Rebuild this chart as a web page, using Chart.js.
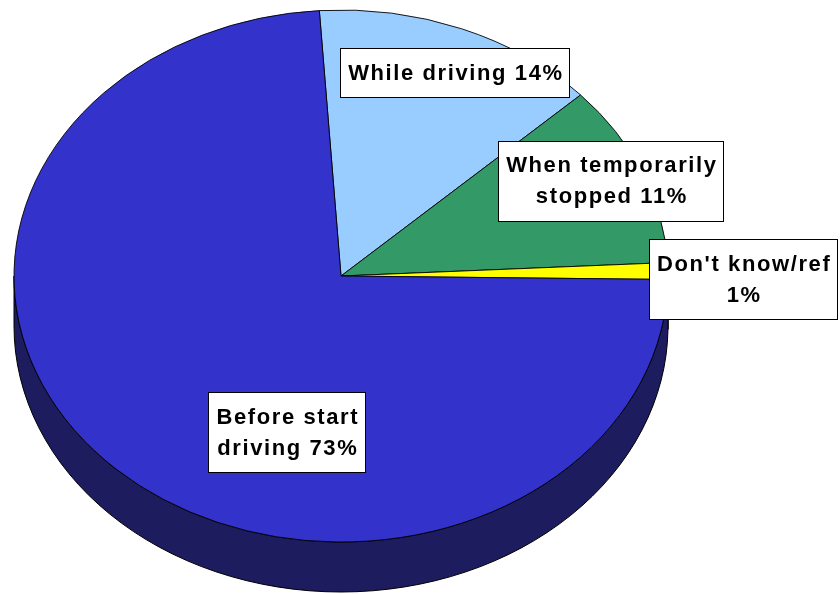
<!DOCTYPE html>
<html>
<head>
<meta charset="utf-8">
<script src="https://cdn.jsdelivr.net/npm/chart.js@4"></script>
<style>
  html, body { margin: 0; padding: 0; background: #fff; }
  #wrap { width: 840px; height: 594px; }
</style>
</head>
<body>
<div id="wrap"><canvas id="pieChart" width="840" height="594"></canvas></div>
<script>
// slices, clockwise from the top
const categories = ['While driving', 'When temporarily stopped', "Don't know/ref", 'Before start driving'];
const values = [14, 11, 1, 73];
const labelLines = [['While driving 14%'], ['When temporarily', 'stopped 11%'], ["Don't know/ref", '1%'], ['Before start', 'driving 73%']];
const topColors = ['#99CCFF', '#339966', '#FFFF00', '#3333CC'];
const sideColors = ['#5A7A99', '#1F5C3D', '#999900', '#1C1C5E'];

// where Excel parked the labels: fraction of radius + angle nudge (deg)
const labelRadius = [0.84, 0.90, 1.23, 0.61];
const labelShift = [2.85, -0.6, 1.6, -27.7];

// ellipse on screen
const rx = 327, ry = 266, depth = 50;

function ellipseTransform(ctx, arc) {
  ctx.translate(arc.x, arc.y);
  ctx.scale(rx / arc.outerRadius, ry / arc.outerRadius);
  ctx.translate(-arc.x, -arc.y);
}

const pie3d = {
  id: 'pie3d',
  beforeDatasetsDraw(chart) {
    const ctx = chart.ctx;
    const arcs = chart.getDatasetMeta(0).data;
    const cx = arcs[0].x, cy = arcs[0].y;
    // side walls, only the front half shows
    arcs.forEach(function(arc, i) {
      [-2 * Math.PI, 0, 2 * Math.PI].forEach(function(k) {
        const a0 = Math.max(arc.startAngle + k, 0);
        const a1 = Math.min(arc.endAngle + k, Math.PI);
        if (a1 <= a0) return;
        ctx.save();
        ctx.beginPath();
        ctx.ellipse(cx, cy, rx, ry, 0, a0, a1);
        ctx.ellipse(cx, cy + depth, rx, ry, 0, a1, a0, true);
        ctx.closePath();
        ctx.fillStyle = sideColors[i];
        ctx.fill();
        ctx.lineWidth = 1;
        ctx.strokeStyle = '#000';
        ctx.stroke();
        ctx.restore();
      });
    });
    ctx.save();
    ellipseTransform(ctx, arcs[0]);
  },
  afterDatasetsDraw(chart) {
    chart.ctx.restore();
  },
  afterDraw(chart) {
    const ctx = chart.ctx;
    const arcs = chart.getDatasetMeta(0).data;
    ctx.save();
    ctx.font = 'bold 22px "Liberation Sans", Arial, sans-serif';
    ctx.letterSpacing = '1.6px';
    ctx.textAlign = 'center';
    ctx.textBaseline = 'middle';
    arcs.forEach(function(arc, i) {
      const mid = (arc.startAngle + arc.endAngle) / 2 + labelShift[i] * Math.PI / 180;
      const x = arc.x + rx * labelRadius[i] * Math.cos(mid);
      const y = arc.y + ry * labelRadius[i] * Math.sin(mid);
      const lines = labelLines[i];
      let w = 0;
      lines.forEach(function(t) { w = Math.max(w, ctx.measureText(t).width); });
      const bw = Math.round(w + 14), bh = lines.length * 31 + 18;
      const bx = Math.round(x - bw / 2) + 0.5, by = Math.round(y - bh / 2) + 0.5;
      ctx.fillStyle = '#fff';
      ctx.fillRect(bx, by, bw, bh);
      ctx.strokeStyle = '#000';
      ctx.lineWidth = 1;
      ctx.strokeRect(bx, by, bw, bh);
      ctx.fillStyle = '#000';
      lines.forEach(function(t, j) {
        ctx.fillText(t, x + 1, y + (j - (lines.length - 1) / 2) * 31 + 1);
      });
    });
    ctx.restore();
  }
};

let ctx = document.getElementById('pieChart');
let pieChart = new Chart(ctx, {
  type: 'pie',
  data: {
    labels: categories,
    datasets: [{
      data: values,
      backgroundColor: topColors,
      borderColor: '#000',
      borderWidth: 0.8,
      clip: false
    }]
  },
  options: {
    responsive: false,
    animation: false,
    events: [],
    rotation: -3.8,
    radius: 266,
    layout: {
      padding: { left: 0, right: 158, top: 0, bottom: 42 }
    },
    plugins: {
      legend: { display: false },
      tooltip: { enabled: false }
    }
  },
  plugins: [pie3d]
});
</script>
</body>
</html>
